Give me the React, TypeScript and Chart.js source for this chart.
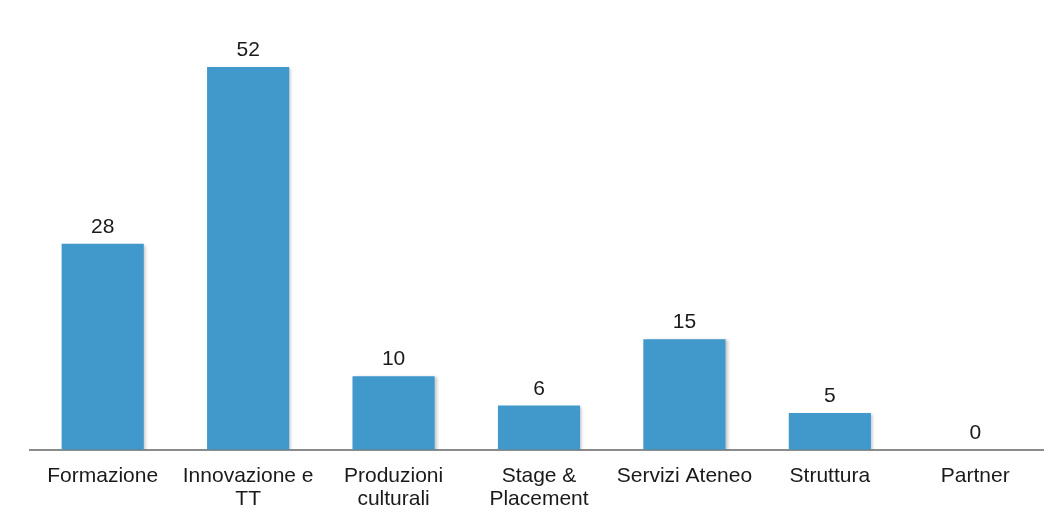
import React, { useEffect, useRef } from "react";
import { Chart, registerables } from "chart.js";

Chart.register(...registerables);

const categories: (string | string[])[] = [
  "Formazione",
  ["Innovazione e", "TT"],
  ["Produzioni", "culturali"],
  ["Stage &", "Placement"],
  "Servizi Ateneo",
  "Struttura",
  "Partner",
];
const values: number[] = [28, 52, 10, 6, 15, 5, 0];

const BAR_COLOR = "#4199CB";
const FONT = "'Liberation Sans', Arial, sans-serif";

const valueLabels = {
  id: "valueLabels",
  afterDatasetsDraw(chart: any) {
    const ctx = chart.ctx;
    const meta = chart.getDatasetMeta(0);
    ctx.save();
    ctx.font = `21px ${FONT}`;
    ctx.fillStyle = "#1a1a1a";
    ctx.textAlign = "center";
    ctx.textBaseline = "alphabetic";
    meta.data.forEach((bar: any, i: number) => {
      ctx.fillText(String(values[i]), bar.x, bar.y - 11);
    });
    ctx.restore();
  },
};

const barShadow = {
  id: "barShadow",
  beforeDatasetsDraw(chart: any) {
    const ctx = chart.ctx;
    ctx.save();
    ctx.shadowColor = "rgba(0,0,0,0.22)";
    ctx.shadowBlur = 3;
    ctx.shadowOffsetX = 2;
    ctx.shadowOffsetY = 1;
  },
  afterDatasetsDraw(chart: any) {
    chart.ctx.restore();
  },
};

export default function App() {
  const ref = useRef<HTMLCanvasElement>(null);
  useEffect(() => {
    if (!ref.current) return;
    const chart = new Chart(ref.current, {
      type: "bar",
      data: {
        labels: categories,
        datasets: [
          {
            data: values,
            backgroundColor: BAR_COLOR,
            borderWidth: 0,
            categoryPercentage: 1,
            barPercentage: 0.565,
          },
        ],
      },
      options: {
        animation: false,
        responsive: false,
        events: [],
        layout: { padding: { left: 30, right: 2, top: 8, bottom: 0 } },
        plugins: {
          legend: { display: false },
          tooltip: { enabled: false },
        },
        scales: {
          x: {
            grid: { display: false, drawTicks: false },
            border: { display: true, color: "#8c8c8c", width: 2 },
            ticks: {
              color: "#1a1a1a",
              padding: 15,
              maxRotation: 0,
              autoSkip: false,
              font: { family: FONT, size: 21, lineHeight: 1.1 },
            },
          },
          y: {
            display: false,
            min: 0,
            max: 60,
          },
        },
      },
      plugins: [barShadow, valueLabels],
    });
    return () => chart.destroy();
  }, []);
  return (
    <div style={{ position: "fixed", left: 0, top: 0, width: 1044, height: 518, overflow: "hidden", background: "#fff" }}>
      <canvas ref={ref} width={1050} height={526} style={{ display: "block" }} />
    </div>
  );
}
